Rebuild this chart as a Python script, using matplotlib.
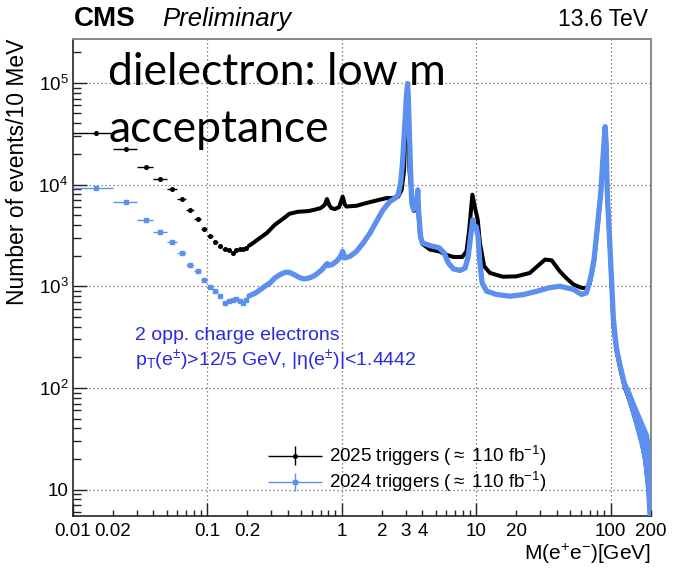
import numpy as np
import matplotlib
matplotlib.use("Agg")
import matplotlib.pyplot as plt
from matplotlib.ticker import FixedLocator, FixedFormatter, FuncFormatter, NullFormatter
from matplotlib.legend_handler import HandlerErrorbar
from matplotlib.container import ErrorbarContainer

plt.rcParams['font.family'] = ['Liberation Sans', 'DejaVu Sans']
plt.rcParams['mathtext.fontset'] = 'custom'
plt.rcParams['mathtext.rm'] = 'Liberation Sans'
plt.rcParams['mathtext.it'] = 'Liberation Sans:italic'
plt.rcParams['mathtext.bf'] = 'Liberation Sans:bold'

BLACK = '#000000'
BLUE = '#5b8ff0'
TEXT_BLUE = '#2a2ae0'

# ---- low-mass 10 MeV bins (centres, GeV) ----
low_mass = [0.015, 0.025, 0.035, 0.045, 0.055, 0.065, 0.075, 0.085, 0.095, 0.105,
            0.115, 0.125, 0.135, 0.145, 0.155, 0.165, 0.175, 0.185, 0.195]
low_2025 = [32400, 22400, 14800, 11300, 9000, 7200, 5560, 4580, 3650, 3100,
            2700, 2470, 2330, 2250, 2120, 2250, 2330, 2300, 2400]
low_2024 = [9230, 6760, 4480, 3410, 2700, 2120, 1610, 1400, 1140, 985,
            890, 800, 690, 720, 730, 745, 720, 690, 740]
bin_half_width = 0.005

# ---- 2025 triggers, rest of the spectrum ----
mass_2025 = [0.205, 0.22, 0.247, 0.278, 0.32, 0.36, 0.41, 0.475, 0.566, 0.63,
             0.70, 0.75, 0.78, 0.81, 0.84, 0.89, 0.96, 1.02, 1.06, 1.09,
             1.29, 1.53, 1.82, 2.16, 2.42, 2.64, 2.80, 2.92, 3.00, 3.09,
             3.14, 3.17, 3.20, 3.33, 3.45, 3.60, 3.69, 3.74, 3.84, 4.0,
             4.56, 5.34, 6.0, 6.8, 7.9, 8.5, 8.9, 9.4, 9.9, 10.3,
             10.7, 11.5, 12.7, 15.8, 19.9, 25.1, 29.5, 32.6, 36.5, 42,
             47, 53, 61, 66, 70, 75.4, 79.5, 84.6, 88.7, 91.2,
             92.8, 94.6, 98.7, 102, 105, 111, 118, 128, 139, 152,
             166, 181, 192, 197]
events_2025 = [2500, 2660, 2980, 3330, 4030, 4510, 5160, 5400, 5480, 5650,
               5870, 6300, 7190, 6300, 5870, 5740, 6000, 7620, 6310, 6080,
               6180, 6580, 6970, 7360, 7360, 7620, 8870, 13900, 43000, 65000,
               50000, 29500, 13900, 7600, 5500, 5700, 6500, 5000, 3090, 2600,
               2290, 2200, 2040, 1940, 1940, 2200, 3600, 7950, 5650, 4510,
               2660, 1570, 1350, 1240, 1250, 1350, 1630, 1830, 1800, 1400,
               1200, 1040, 964, 960, 1050, 1750, 3450, 8000, 21000, 35500,
               24500, 8000, 2600, 1050, 420, 230, 155, 100, 74, 50,
               34, 20, 9.5, 5.5]

# ---- 2024 triggers, rest of the spectrum ----
mass_2024 = [0.205, 0.23, 0.25, 0.27, 0.295, 0.32, 0.35, 0.38, 0.41, 0.45,
             0.49, 0.53, 0.58, 0.63, 0.71, 0.76, 0.78, 0.80, 0.85, 0.92,
             0.98, 1.02, 1.06, 1.16, 1.29, 1.45, 1.63, 1.82, 2.04, 2.29,
             2.51, 2.64, 2.75, 2.84, 2.97, 3.03, 3.10, 3.14, 3.18, 3.26,
             3.33, 3.43, 3.60, 3.69, 3.74, 3.87, 4.0, 4.56, 5.34, 5.8,
             6.23, 6.8, 7.6, 8.3, 8.75, 9.12, 9.46, 9.75, 10.02, 10.35,
             10.7, 11.1, 12.0, 14.3, 17.9, 22.5, 28.4, 34.7, 42, 53,
             61, 66, 68.5, 72, 75.4, 79.5, 84.6, 88.7, 91.2, 92.8,
             94.6, 98.7, 102, 105, 108, 111, 118, 128, 139, 152,
             166, 181, 192, 197]
events_2024 = [800, 860, 930, 1000, 1080, 1210, 1300, 1370, 1370, 1290,
               1210, 1180, 1210, 1270, 1440, 1600, 1670, 1600, 1630, 1760,
               1950, 2200, 1900, 1970, 2200, 2660, 3340, 4340, 5650, 6810,
               7360, 7950, 10300, 16200, 43000, 70000, 98700, 70000, 40000, 13900,
               6580, 5650, 6200, 8870, 5650, 3090, 2660, 2510, 2380, 2120,
               1690, 1480, 1430, 1510, 1970, 3090, 4510, 3700, 3870, 3090,
               1690, 1080, 893, 828, 798, 828, 893, 964, 1000, 930,
               830, 860, 1000, 1300, 1830, 3600, 8240, 21900, 37100, 25500,
               8240, 2660, 1080, 480, 330, 240, 164, 105, 78, 53,
               36.5, 21.5, 10.2, 5.6]

# spread of the 2024 points above the Z peak
tail_mass = [102, 110, 118, 128, 139, 152, 166, 181, 192, 198]
tail_2024_lo = [1000, 220, 145, 88, 62, 40, 26, 14, 7, 5.5]
tail_2024_hi = [1150, 270, 190, 120, 98, 72, 55, 42, 35, 25]

x_labels = {0.01: '0.01', 0.02: '0.02', 0.1: '0.1', 0.2: '0.2', 1: '1', 2: '2',
            3: '3', 4: '4', 10: '10', 20: '20', 100: '100', 200: '200'}

W, H = 673, 568
fig = plt.figure(figsize=(W / 100, H / 100), dpi=100)
ax = fig.add_axes([72.5 / W, 52 / H, (651 - 72.5) / W, (516 - 39) / H])
ax.set_xscale('log')
ax.set_yscale('log')
ax.set_xlim(0.01, 200)
ax.set_ylim(5.5, 2.7e5)

# 2025
ax.plot(mass_2025, events_2025, color=BLACK, lw=2.9, solid_joinstyle='round',
        solid_capstyle='round', zorder=3)
h25 = ax.errorbar(low_mass, low_2025, xerr=bin_half_width, yerr=np.sqrt(low_2025),
                  fmt='o', ms=2.6, color=BLACK, ecolor=BLACK, elinewidth=1.0,
                  capsize=0, zorder=3, label=r'2025 triggers ($\approx$ 110 fb$^{-1}$)')

# 2024
ax.fill_between(tail_mass, tail_2024_lo, tail_2024_hi, color=BLUE, lw=0, zorder=4)
ax.plot(mass_2024, events_2024, color=BLUE, lw=3.8, solid_joinstyle='round',
        solid_capstyle='round', zorder=4)
h24 = ax.errorbar(low_mass, low_2024, xerr=bin_half_width, yerr=np.sqrt(low_2024),
                  fmt='s', ms=2.6, color=BLUE, ecolor=BLUE, elinewidth=1.0,
                  capsize=0, zorder=4, label=r'2024 triggers ($\approx$ 110 fb$^{-1}$)')

# axes styling
for side in ('left', 'bottom'):
    ax.spines[side].set_color('#222222')
    ax.spines[side].set_linewidth(1.2)
for side in ('top', 'right'):
    ax.spines[side].set_color('#888888')
    ax.spines[side].set_linewidth(1.4)

ax.xaxis.set_major_locator(FixedLocator([0.01, 0.1, 1, 10, 100]))
ax.xaxis.set_minor_locator(FixedLocator(
    [d * k for d in (0.01, 0.1, 1, 10, 100) for k in range(2, 10) if d * k <= 200]))
fmt_x = FuncFormatter(lambda v, p: next((s for k, s in x_labels.items()
                                         if abs(v - k) < 1e-9 * max(1, k)), ''))
ax.xaxis.set_major_formatter(fmt_x)
ax.xaxis.set_minor_formatter(fmt_x)

ax.yaxis.set_major_locator(FixedLocator([10, 100, 1e3, 1e4, 1e5]))
ax.yaxis.set_major_formatter(FixedFormatter(['10', r'10$^{2}$', r'10$^{3}$',
                                             r'10$^{4}$', r'10$^{5}$']))
ax.yaxis.set_minor_locator(FixedLocator(
    [d * k for d in (1, 10, 100, 1e3, 1e4, 1e5) for k in range(2, 10)]))
ax.yaxis.set_minor_formatter(NullFormatter())

ax.tick_params(axis='both', which='both', direction='in', top=False, right=False,
               colors='#222222', labelcolor='black', labelsize=13.5)
ax.tick_params(axis='x', which='major', length=9.5, width=1.0, pad=5)
ax.tick_params(axis='x', which='minor', length=4.5, width=1.0, pad=5)
ax.tick_params(axis='y', which='major', length=10, width=1.0, pad=3)
ax.tick_params(axis='y', which='minor', length=5.5, width=1.0)

ax.grid(which='major', axis='both', linestyle=(0, (1, 2.2)), color='#666666',
        linewidth=0.9, zorder=1)
ax.set_axisbelow(False)

ax.set_ylabel('Number of events/10 MeV', fontsize=16.5, loc='top', labelpad=7)
fig.text(651 / W, 1 - 560 / H, r'M(e$^{+}$e$^{-}$)[GeV]', fontsize=15,
         ha='right', va='baseline')

err_handler = HandlerErrorbar(xerr_size=1.45, yerr_size=0.5)
leg = ax.legend(handles=[h25, h24], loc='upper left', fontsize=13.5, frameon=False,
                handlelength=2.9, handletextpad=0.35, labelspacing=0.12,
                borderpad=0, borderaxespad=0,
                handler_map={ErrorbarContainer: err_handler},
                bbox_to_anchor=(268 / W, 1 - 444 / H), bbox_transform=fig.transFigure)

# header
fig.text(74 / W, 1 - 26 / H, 'CMS', fontsize=20, fontweight='bold', va='baseline')
fig.text(162 / W, 1 - 26 / H, 'Preliminary', fontsize=18.5, style='italic', va='baseline')
fig.text(648 / W, 1 - 26 / H, '13.6 TeV', fontsize=16.5, ha='right', va='baseline')

# selection text
fig.text(135 / W, 1 - 340 / H, '2 opp. charge electrons', fontsize=14,
         color=TEXT_BLUE, va='baseline')
fig.text(135 / W, 1 - 366 / H,
         r'p$_{\mathrm{T}}$(e$^{\pm}$)>12/5 GeV, |η(e$^{\pm}$)|<1.4442',
         fontsize=14, color=TEXT_BLUE, va='baseline')

# slide annotation
fig.text(108 / W, 1 - 85 / H, 'dielectron: low m', fontsize=32, family='Lato',
         va='baseline', zorder=10)
fig.text(108 / W, 1 - 142 / H, 'acceptance', fontsize=32, family='Lato',
         va='baseline', zorder=10)

fig.savefig('out.png', dpi=100)
